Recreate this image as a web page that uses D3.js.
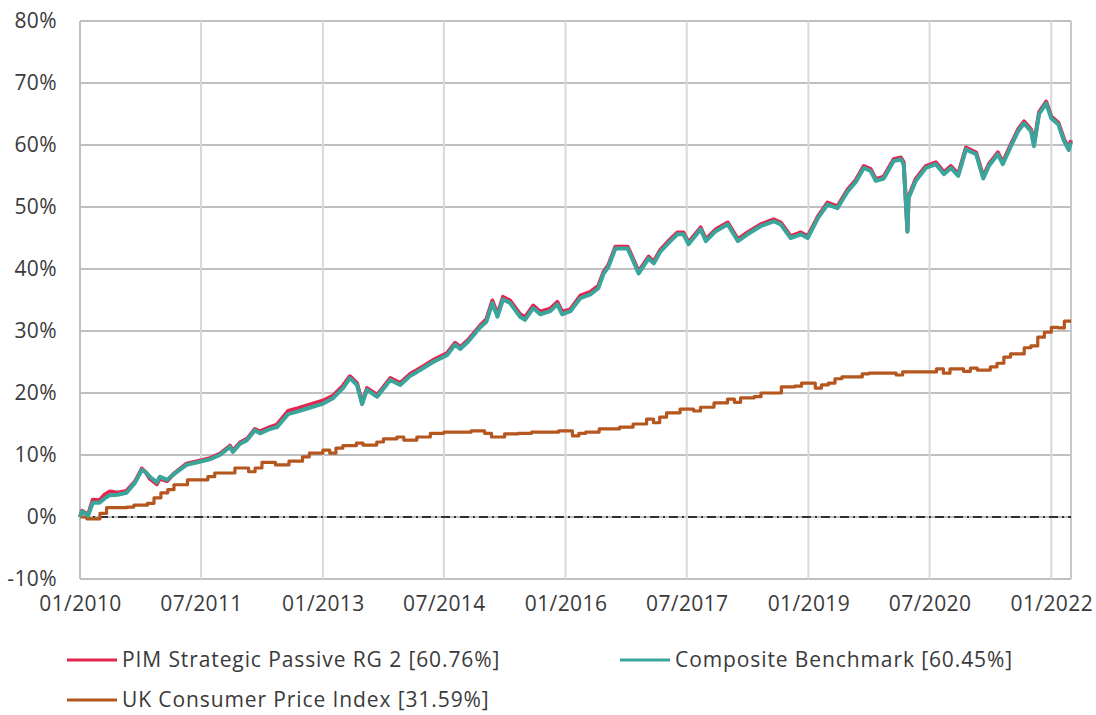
<!DOCTYPE html>
<meta charset="utf-8">
<script src="https://d3js.org/d3.v7.min.js"></script>
<style>
body { margin: 0; background: #fff; }
text { font-family: "Open Sans", Lato, sans-serif; fill: #3a3a3a; }
.tick-label { font-size: 21px; letter-spacing: 0.4px; }
.legend text { font-size: 21px; letter-spacing: 0.9px; }
</style>
<div id="plot"></div>
<script>
// fund and benchmark cumulative return (%)
var fundDates = ["2010-01-01","2010-01-10","2010-01-23","2010-02-06","2010-02-28","2010-03-30","2010-04-22","2010-05-14","2010-06-20","2010-07-30",
  "2010-09-06","2010-10-07","2010-10-25","2010-11-12","2010-12-14","2010-12-27","2011-01-29","2011-03-04","2011-04-27","2011-06-25",
  "2011-08-10","2011-09-24","2011-11-09","2011-11-22","2011-12-24","2012-01-25","2012-02-29","2012-03-23","2012-05-07","2012-06-08",
  "2012-07-28","2012-09-07","2012-10-22","2013-01-03","2013-02-17","2013-04-02","2013-05-03","2013-06-04","2013-06-27","2013-07-19",
  "2013-09-03","2013-11-01","2013-12-16","2014-01-31","2014-03-02","2014-04-07","2014-05-13","2014-07-15","2014-08-21","2014-09-13",
  "2014-10-19","2014-12-12","2015-01-09","2015-02-05","2015-02-28","2015-03-25","2015-04-26","2015-06-10","2015-07-02","2015-08-08",
  "2015-09-09","2015-10-24","2015-11-25","2015-12-17","2016-01-23","2016-03-08","2016-04-22","2016-05-28","2016-06-20","2016-07-12",
  "2016-08-13","2016-10-07","2016-10-29","2016-11-26","2017-01-10","2017-02-02","2017-03-04","2017-04-18","2017-05-20","2017-06-16",
  "2017-07-09","2017-09-02","2017-09-25","2017-11-09","2018-01-02","2018-02-17","2018-04-01","2018-05-30","2018-07-28","2018-08-29",
  "2018-10-13","2018-11-28","2018-12-29","2019-02-13","2019-03-28","2019-05-12","2019-06-27","2019-08-02","2019-09-08","2019-10-09",
  "2019-11-01","2019-12-07","2020-01-21","2020-02-22","2020-03-06","2020-03-23","2020-03-28","2020-04-29","2020-06-14","2020-07-29",
  "2020-09-04","2020-10-05","2020-11-07","2020-12-12","2021-01-27","2021-02-28","2021-03-25","2021-05-05","2021-05-27","2021-07-03",
  "2021-08-04","2021-08-31","2021-10-02","2021-10-15","2021-11-07","2021-12-09","2022-01-01","2022-02-02","2022-02-28","2022-03-21","2022-03-31"];

var pimValues = [0.0,1.0,0.7,0.3,2.8,2.7,3.6,4.1,3.9,4.2,
  5.7,7.8,7.2,6.2,5.3,6.2,5.8,7.1,8.6,9.1,
  9.5,10.2,11.5,10.7,12.0,12.6,14.2,13.8,14.5,14.9,
  17.1,17.5,18.0,18.8,19.6,21.2,22.7,21.6,18.4,20.8,
  19.7,22.4,21.6,23.1,23.7,24.5,25.3,26.4,28.1,27.4,
  28.6,30.9,31.9,34.9,32.7,35.5,34.9,32.7,32.2,34.1,
  33.1,33.6,34.7,33.1,33.5,35.7,36.3,37.3,39.5,40.6,
  43.6,43.6,41.9,39.6,42.0,41.2,43.1,44.8,45.9,45.9,
  44.3,46.7,44.8,46.4,47.5,44.8,45.9,47.2,48.0,47.5,
  45.3,45.9,45.3,48.5,50.7,50.1,52.8,54.3,56.6,56.1,
  54.5,54.9,57.7,58.0,57.2,46.2,51.7,54.5,56.6,57.2,
  55.6,56.6,55.3,59.6,58.8,54.9,56.9,58.8,57.2,60.1,
  62.5,63.8,62.5,60.1,65.3,67.0,64.6,63.6,60.9,59.5,60.76];

var benchValues = [0.0,0.9,0.6,0.2,2.3,2.3,3.0,3.5,3.6,3.9,
  5.5,7.6,7.2,6.5,5.6,6.5,6.0,7.0,8.4,8.9,
  9.3,10.0,11.3,10.5,11.8,12.4,14.0,13.5,14.2,14.5,
  16.6,17.0,17.5,18.3,19.2,20.8,22.4,21.3,18.2,20.5,
  19.4,22.1,21.3,22.8,23.4,24.2,25.0,26.1,27.8,27.1,
  28.3,30.6,31.5,34.5,32.3,35.1,34.5,32.3,31.8,33.7,
  32.7,33.2,34.3,32.7,33.2,35.3,35.9,36.9,39.2,40.3,
  43.3,43.3,41.6,39.3,41.7,40.9,42.8,44.5,45.6,45.6,
  44.0,46.4,44.5,46.1,47.2,44.5,45.6,46.9,47.7,47.2,
  45.0,45.6,45.0,48.2,50.4,49.8,52.5,54.0,56.3,55.8,
  54.2,54.6,57.4,57.7,56.9,46.0,51.4,54.2,56.3,56.9,
  55.3,56.3,55.0,59.3,58.5,54.6,56.6,58.5,56.9,59.8,
  62.2,63.5,62.2,59.8,65.0,66.7,64.3,63.3,60.6,59.2,60.45];

// UK CPI, monthly steps (only months where it changes)
var cpiMonths = ["2010-01","2010-02","2010-04","2010-05","2010-08","2010-09","2010-11","2010-12",
  "2011-01","2011-02","2011-03","2011-05","2011-08","2011-09","2011-12",
  "2012-02","2012-03","2012-04","2012-06","2012-08","2012-10","2012-11",
  "2013-01","2013-02","2013-03","2013-04","2013-06","2013-07","2013-09","2013-10","2013-12",
  "2014-01","2014-03","2014-05","2014-07","2014-11",
  "2015-01","2015-02","2015-04","2015-06","2015-08","2015-12",
  "2016-02","2016-03","2016-04","2016-06","2016-09","2016-11",
  "2017-01","2017-02","2017-03","2017-04","2017-06","2017-08","2017-09","2017-11",
  "2018-01","2018-02","2018-03","2018-05","2018-06","2018-09","2018-11","2018-12",
  "2019-02","2019-03","2019-04","2019-05","2019-06","2019-09","2019-10",
  "2020-02","2020-03","2020-08","2020-09","2020-10","2020-12",
  "2021-01","2021-02","2021-04","2021-05","2021-06","2021-07","2021-09","2021-10","2021-11","2021-12",
  "2022-01","2022-02","2022-03"];
var cpiValues = [0.0,-0.3,0.6,1.5,1.6,1.9,2.2,3.1,
  3.9,4.4,5.2,6.0,6.5,7.1,7.9,
  7.3,7.9,8.8,8.4,9.0,9.7,10.3,
  10.8,10.3,11.1,11.5,11.9,11.6,12.1,12.6,12.9,
  12.4,12.9,13.5,13.7,13.9,
  13.5,12.9,13.4,13.5,13.7,13.9,
  13.1,13.5,13.7,14.2,14.5,15.0,
  15.8,15.2,16.1,16.8,17.4,17.1,17.7,18.4,
  19.0,18.5,19.2,19.4,20.0,21.0,21.1,21.6,
  20.8,21.3,21.6,22.3,22.6,23.1,23.2,
  22.9,23.4,23.9,23.2,23.9,23.5,
  24.0,23.7,24.2,24.8,25.8,26.3,27.3,27.6,29.0,29.8,
  30.6,30.5,31.59];

var xTickLabels = ["01/2010","07/2011","01/2013","07/2014","01/2016","07/2017","01/2019","07/2020","01/2022"];
var yTicks = [-10,0,10,20,30,40,50,60,70,80];
var seriesNames = ["PIM Strategic Passive RG 2 [60.76%]","Composite Benchmark [60.45%]","UK Consumer Price Index [31.59%]"];
var seriesColors = ["#e3264f","#3aa59b","#b4561e"];

var W = 1096, H = 715;
var margin = {top: 21, right: 25, bottom: 136, left: 80},
    width = W - margin.left - margin.right,
    height = H - margin.top - margin.bottom;

var parseDay = d3.timeParse("%Y-%m-%d"),
    parseMonth = d3.timeParse("%Y-%m"),
    parseTick = d3.timeParse("%m/%Y");

var startDate = parseDay(fundDates[0]),
    endDate = parseDay(fundDates[fundDates.length - 1]);

var x = d3.scaleTime().domain([startDate, endDate]).range([0, width]);
var y = d3.scaleLinear().domain([-10, 80]).range([height, 0]);

var svg = d3.select("#plot").append("svg")
    .attr("width", W).attr("height", H)
  .append("g")
    .attr("transform", "translate(" + margin.left + "," + margin.top + ")");

// horizontal grid
svg.append("g").selectAll("line").data(yTicks).enter().append("line")
    .attr("x1", 0).attr("x2", width)
    .attr("y1", function(d) { return y(d); }).attr("y2", function(d) { return y(d); })
    .attr("stroke", "#bfbfbf").attr("stroke-width", 2);

// vertical grid
svg.append("g").selectAll("line").data(xTickLabels).enter().append("line")
    .attr("x1", function(d) { return x(parseTick(d)); }).attr("x2", function(d) { return x(parseTick(d)); })
    .attr("y1", 0).attr("y2", height)
    .attr("stroke", "#d9d9d9").attr("stroke-width", 2);

// frame: left, right
svg.append("line").attr("x1", 0).attr("x2", 0).attr("y1", 0).attr("y2", height)
    .attr("stroke", "#bfbfbf").attr("stroke-width", 2);
svg.append("line").attr("x1", width).attr("x2", width).attr("y1", 0).attr("y2", height)
    .attr("stroke", "#c8c8c8").attr("stroke-width", 2);

// y labels
var yAxis = d3.axisLeft(y).tickValues(yTicks).tickSize(0).tickPadding(23)
    .tickFormat(function(d) { return d + "%"; });
svg.append("g").call(yAxis).call(function(g) {
  g.select(".domain").remove();
  g.selectAll("text").attr("class", "tick-label").attr("fill", "#3a3a3a");
}).attr("font-family", null).attr("font-size", null);

// x labels
var xAxis = d3.axisBottom(x).tickValues(xTickLabels.map(parseTick)).tickSize(0).tickPadding(17)
    .tickFormat(d3.timeFormat("%m/%Y"));
svg.append("g").attr("transform", "translate(0," + height + ")").call(xAxis).call(function(g) {
  g.select(".domain").remove();
  g.selectAll("text").attr("class", "tick-label").attr("fill", "#3a3a3a");
}).attr("font-family", null).attr("font-size", null);

// zero line, dash-dot
svg.append("line")
    .attr("x1", 0).attr("x2", width)
    .attr("y1", y(0)).attr("y2", y(0))
    .attr("stroke", "#000").attr("stroke-width", 1.6)
    .attr("stroke-dasharray", "9,4,2,4");

// data
var fundData = fundDates.map(function(d, i) { return {date: parseDay(d), pim: pimValues[i], bench: benchValues[i]}; });
var cpiData = cpiMonths.map(function(d, i) { return {date: parseMonth(d), v: cpiValues[i]}; });
cpiData.push({date: endDate, v: cpiValues[cpiValues.length - 1]});

var line = function(key) {
  return d3.line().x(function(d) { return x(d.date); }).y(function(d) { return y(d[key]); });
};

svg.append("path").datum(cpiData)
    .attr("fill", "none").attr("stroke", seriesColors[2]).attr("stroke-width", 3.2)
    .attr("stroke-linejoin", "round")
    .attr("d", d3.line().curve(d3.curveStepAfter).x(function(d) { return x(d.date); }).y(function(d) { return y(d.v); }));

svg.append("path").datum(fundData)
    .attr("fill", "none").attr("stroke", seriesColors[0]).attr("stroke-width", 4)
    .attr("stroke-linejoin", "round")
    .attr("d", line("pim"));

svg.append("path").datum(fundData)
    .attr("fill", "none").attr("stroke", seriesColors[1]).attr("stroke-width", 4)
    .attr("stroke-linejoin", "round")
    .attr("d", line("bench"));

// legend
var legendPos = [[-13, 639], [540, 639], [-13, 679]];
var legend = d3.select("svg").append("g").attr("class", "legend")
  .selectAll("g").data(seriesNames).enter().append("g")
    .attr("transform", function(d, i) { return "translate(" + (margin.left + legendPos[i][0]) + "," + (margin.top + legendPos[i][1]) + ")"; });

legend.append("line")
    .attr("x1", 0).attr("x2", 50).attr("y1", 0).attr("y2", 0)
    .attr("stroke", function(d, i) { return seriesColors[i]; })
    .attr("stroke-width", 3);

legend.append("text")
    .attr("x", 55).attr("dy", "0.35em")
    .text(function(d) { return d; });
</script>
